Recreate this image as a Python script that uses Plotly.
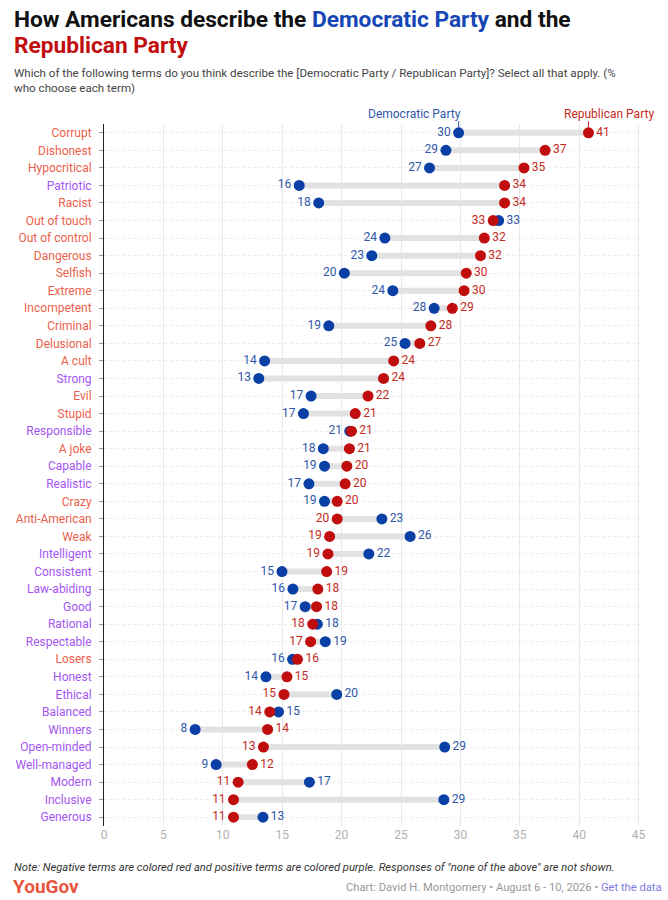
import plotly.graph_objects as go

# Terms, top to bottom, with the share (%) picking each term for each party
terms = ["Corrupt", "Dishonest", "Hypocritical", "Patriotic", "Racist", "Out of touch",
         "Out of control", "Dangerous", "Selfish", "Extreme", "Incompetent", "Criminal",
         "Delusional", "A cult", "Strong", "Evil", "Stupid", "Responsible", "A joke",
         "Capable", "Realistic", "Crazy", "Anti-American", "Weak", "Intelligent",
         "Consistent", "Law-abiding", "Good", "Rational", "Respectable", "Losers",
         "Honest", "Ethical", "Balanced", "Winners", "Open-minded", "Well-managed",
         "Modern", "Inclusive", "Generous"]

dem = [29.85, 28.78, 27.4, 16.43, 18.07, 33.22, 23.64, 22.54, 20.23, 24.31, 27.79, 18.92,
       25.34, 13.52, 13.03, 17.43, 16.79, 20.69, 18.46, 18.56, 17.25, 18.56, 23.39, 25.77,
       22.29, 14.98, 15.9, 16.93, 17.96, 18.63, 15.87, 13.63, 19.59, 14.69, 7.67, 28.68,
       9.44, 17.29, 28.61, 13.38]
rep = [40.78, 37.13, 35.35, 33.72, 33.72, 32.76, 32.01, 31.69, 30.49, 30.31, 29.32, 27.51,
       26.58, 24.38, 23.53, 22.22, 21.15, 20.83, 20.66, 20.44, 20.3, 19.63, 19.63, 18.99,
       18.85, 18.74, 18.0, 17.89, 17.57, 17.39, 16.29, 15.4, 15.15, 13.95, 13.77, 13.42,
       12.49, 11.29, 10.9, 10.9]
# "neg" = negative term (red label), "pos" = positive term (purple label)
tone = ["neg", "neg", "neg", "pos", "neg", "neg", "neg", "neg", "neg", "neg", "neg", "neg",
        "neg", "neg", "pos", "neg", "neg", "pos", "neg", "pos", "pos", "neg", "neg", "neg",
        "pos", "pos", "pos", "pos", "pos", "pos", "neg", "pos", "pos", "pos", "pos", "pos",
        "pos", "pos", "pos", "pos"]
x_ticks = [0, 5, 10, 15, 20, 25, 30, 35, 40, 45]

DEM = "#0a3fa6"
REP = "#c00d0d"
DEM_TXT = "#2f57a8"
REP_TXT = "#c42a22"
NEG = "#ec5f4c"
POS = "#a455f2"
FONT = "Roboto"

fig = go.Figure()

# grey connector bars
bx, by = [], []
for t, d, r in zip(terms, dem, rep):
    bx += [d, r, None]
    by += [t, t, None]
fig.add_trace(go.Scatter(x=bx, y=by, mode="lines", line=dict(color="#e2e2e2", width=6),
                         hoverinfo="skip", showlegend=False))

dem_pos = ["middle left" if d <= r else "middle right" for d, r in zip(dem, rep)]
rep_pos = ["middle right" if d <= r else "middle left" for d, r in zip(dem, rep)]

fig.add_trace(go.Scatter(x=dem, y=terms, mode="markers+text", name="Democratic Party",
                         marker=dict(color=DEM, size=11),
                         text=[str(round(v)) for v in dem], textposition=dem_pos,
                         textfont=dict(color=DEM_TXT, size=12, family=FONT),
                         cliponaxis=False, showlegend=False))
fig.add_trace(go.Scatter(x=rep, y=terms, mode="markers+text", name="Republican Party",
                         marker=dict(color=REP, size=11),
                         text=[str(round(v)) for v in rep], textposition=rep_pos,
                         textfont=dict(color=REP_TXT, size=12, family=FONT),
                         cliponaxis=False, showlegend=False))

tick_text = ['<span style="color:%s">%s</span>' % (NEG if c == "neg" else POS, t)
             for t, c in zip(terms, tone)]

fig.update_layout(
    width=668, height=900,
    margin=dict(l=104, r=27, t=124, b=74),
    paper_bgcolor="white", plot_bgcolor="white",
    font=dict(family=FONT, size=11, color="#333"),
    xaxis=dict(range=[0, 45.2], tickvals=x_ticks, showgrid=True, gridcolor="#e8e8e8",
               gridwidth=1, zeroline=False, showline=False, ticks="",
               tickfont=dict(color="#b0b0b0", size=12)),
    yaxis=dict(type="category", categoryarray=terms, range=[len(terms) - 0.5, -0.5],
               tickvals=terms, ticktext=tick_text, showgrid=True, gridcolor="#ececec",
               griddash="dot", showline=True, linecolor="#222", linewidth=1,
               ticks="outside", ticklen=4, tickcolor="#999", ticklabelstandoff=5,
               zeroline=False, tickfont=dict(size=12)),
    hovermode=False,
)

def px_note(text, px, py, size, color, xanchor="left", **kw):
    fig.add_annotation(text=text, xref="paper", yref="paper", x=0, y=1,
                       xshift=px - 104, yshift=124 - py, xanchor=xanchor,
                       yanchor="middle", showarrow=False, align="left",
                       font=dict(size=size, color=color, family=FONT), **kw)

px_note("<b>How Americans describe the <span style='color:#1646b5'>Democratic Party</span> and the</b>",
        12, 19, 22.7, "#111")
px_note("<b><span style='color:#c00d0d'>Republican Party</span></b>", 12, 45, 22.7, "#111")
px_note("Which of the following terms do you think describe the [Democratic Party / Republican Party]? Select all that apply. (%",
        12, 73, 11.6, "#444")
px_note("who choose each term)", 12, 88, 11.6, "#444")

# series labels above the first row
fig.add_annotation(text="Democratic Party", x=dem[0], y=terms[0], xanchor="right",
                   yanchor="middle", yshift=19, xshift=4, showarrow=False,
                   font=dict(size=12, color=DEM_TXT, family=FONT))
fig.add_annotation(text="Republican Party", x=rep[0], y=terms[0], xanchor="center",
                   yanchor="middle", yshift=19, xshift=21, showarrow=False,
                   font=dict(size=12, color=REP_TXT, family=FONT))
for v, c in [(dem[0], DEM_TXT), (rep[0], REP_TXT)]:
    fig.add_annotation(text="", x=v, y=terms[0], showarrow=True, ax=0, ay=-13,
                       arrowhead=0, arrowwidth=1, arrowcolor=c, standoff=5)

# footer
fig.add_annotation(text="<i>Note: Negative terms are colored red and positive terms are colored purple. Responses of \"none of the above\" are not shown.</i>",
                   xref="paper", yref="paper", x=0, y=0, xshift=12 - 104, yshift=826 - 867,
                   xanchor="left", yanchor="middle", showarrow=False,
                   font=dict(size=11.2, color="#333", family=FONT))
fig.add_annotation(text="<b>YouGov</b>", xref="paper", yref="paper", x=0, y=0,
                   xshift=11 - 104, yshift=826 - 886, xanchor="left", yanchor="middle",
                   showarrow=False, font=dict(size=19, color="#e8553e", family=FONT))
fig.add_annotation(text="Chart: David H. Montgomery • August 6 - 10, 2026 • <span style='color:#7c7ce0'>Get the data</span>",
                   xref="paper", yref="paper", x=1, y=0, xshift=664 - 641, yshift=826 - 887,
                   xanchor="right", yanchor="middle", showarrow=False,
                   font=dict(size=11.2, color="#999", family=FONT))

fig.write_html("out.html", config={"displayModeBar": False},
               post_script="document.body.style.margin='0';")
